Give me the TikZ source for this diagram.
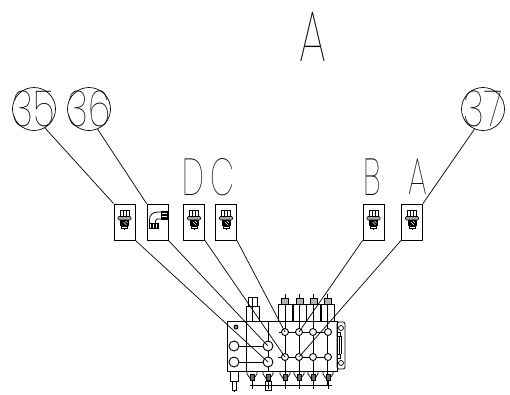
\documentclass[tikz,border=0pt]{standalone}
\usepackage{fontspec}
\usepackage{graphicx}
\newfontfamily\cadfont{Poppins Thin}
\usetikzlibrary{positioning, calc}
\newcommand{\cadtext}[3]{\scalebox{#2}[1]{\fontsize{#1}{#1}\selectfont\cadfont #3}}
\newcommand{\balloontext}[1]{\makebox[0pt]{\smash{\raisebox{-17pt}{\cadtext{50}{.72}{#1}}}}}
\tikzstyle{leader} = [line width=.7pt]
\tikzstyle{part} = [draw=black, line width=.7pt]
\tikzstyle{balloon} = [circle, draw=black, line width=.7pt, inner sep=0pt, minimum size=43pt]
\tikzstyle{letter} = [inner sep=0pt, text=black]
\tikzstyle{port} = [circle, draw=black, fill=white, line width=.9pt, inner sep=0pt, minimum size=7pt]
\tikzstyle{bigport} = [port, minimum size=10pt]
\tikzstyle{holder} = [rectangle, draw=black, line width=.8pt, minimum width=21pt, minimum height=36pt, inner sep=0pt]
\tikzstyle{straightfit} = [holder, path picture={
  \begin{scope}[shift={(path picture bounding box.center)}, x=1pt, y=-1pt, line width=.6pt]
  \draw (-4.5,-12) rectangle (4.5,-5);
  \draw (-1.5,-12) -- (-1.5,-2) (1.5,-12) -- (1.5,-2);
  \draw[rounded corners=1pt, fill=black!35] (-6.5,-5.5) rectangle (6.5,-2);
  \fill[black] (-4.5,-2) rectangle (4.5,4);
  \draw[white, line width=.4pt] (-1,0) -- (2,3) (1,-1) -- (3,1);
  \draw (-3,4) rectangle (3,6.5) (0,6.5) -- (0,8);
  \end{scope}}]
\tikzstyle{elbowfit} = [holder, path picture={
  \begin{scope}[shift={(path picture bounding box.center)}, x=1pt, y=-1pt, line width=.8pt]
  \draw (3.5,-10) -- (1,-10) .. controls (-5,-10) and (-8,-7) .. (-8,-2) -- (-8,1.5);
  \draw (3.5,-3) -- (0,-3) .. controls (-1.5,-3) and (-2,-2) .. (-2,1.5);
  \draw (3.5,-11) rectangle (10,-2.5);
  \foreach \yy in {-9.5,-8,-6.5,-5,-3.5} \draw[line width=.5pt] (3.5,\yy) -- (10,\yy);
  \draw (-8,1.5) rectangle (1,6.5);
  \foreach \xx in {-6.5,-5,-3.5,-2,-.5} \draw[line width=.5pt] (\xx,1.5) -- (\xx,6.5);
  \end{scope}}]

\begin{document}
\begin{tikzpicture}[x=1pt,y=-1pt]
\useasboundingbox (0,0) rectangle (510,394);

\node(c35)[balloon] at (34,109) {\balloontext{35}};
\node(c36)[balloon] at (89,109) {\balloontext{36}};
\node(c37)[balloon] at (483,109) {\balloontext{37}};

\node(title)[letter] at (312.5,37) {\cadtext{72}{.62}{A}};
\node(labD)[letter] at (193,177) {\cadtext{52}{.6}{D}};
\node(labC)[letter] at (222,177) {\cadtext{52}{.6}{C}};
\node(labB)[letter] at (372.5,177) {\cadtext{52}{.6}{B}};
\node(labA)[letter] at (418,177) {\cadtext{52}{.6}{A}};

\node(box35)[straightfit] at (124.5,222) {};
\node(box36)[elbowfit] at (157.5,222) {};
\node(boxD)[straightfit] at (194,222) {};
\node(boxC)[straightfit] at (226,222) {};
\node(boxB)[straightfit] at (373.5,222) {};
\node(boxA)[straightfit] at (412,222) {};

% valve block
\node(block)[rectangle, draw=black, line width=.8pt, minimum width=110pt, minimum height=50pt, inner sep=0pt] at (282,346) {};
\node(plate)[rectangle, draw=black, rounded corners=2pt, line width=.8pt, minimum width=8pt, minimum height=47pt, inner sep=0pt] at (341,345.5) {};
\draw[part] (341,328) circle (2.5pt) (341,363) circle (2.5pt);
\draw[part] (337,332) rectangle (340,336) (337,354) rectangle (340,358) (339,336) -- (339,354) (341,336) -- (341,354);
\draw[part] (246,321) -- (246,371) (268,321) -- (268,371);

% top studs
\draw[part] (246,306) rectangle (259,321);
\draw[part] (248,297) rectangle (257,306) (252.5,297) -- (252.5,321);
\foreach \xx/\wd in {285/7,299.5/6.5,313.5/7,327.5/6.5} {
  \draw[part] (\xx-\wd,304) rectangle (\xx+\wd,321);
  \draw[part, fill=black!30] (\xx-3.5,298) rectangle (\xx+3.5,304);
  \draw[part] (\xx,294) -- (\xx,298) (\xx,304) -- (\xx,385);
}

% bottom fittings
\draw[part] (230,371) rectangle (238,381) (232,381) rectangle (236,390) (234,390) -- (234,392);
\foreach \xx in {252,268,285,299,313,328} {
  \draw[part] (\xx-5,371) -- (\xx-5,374) -- (\xx-1.5,379) -- (\xx+1.5,379) -- (\xx+5,374) -- (\xx+5,371);
  \draw[part, fill=black!60] (\xx-2,374) rectangle (\xx+2,380);
  \draw[part] (\xx,380) -- (\xx,389);
}
\draw[part] (265,381) rectangle (271,390);
\draw[part] (250,385) -- (332,385);

% rows of ports
\draw[part] (279,332) -- (332,332);
\draw[part] (278,357) -- (332,357);
\draw[part] (234,346) -- (268,346);
\draw[part] (234,362) -- (268,362);
\node(pb1)[bigport] at (234,346) {};
\node(pb2)[bigport] at (268,346) {};
\node(pb3)[bigport] at (234,362) {};
\node(pb4)[bigport] at (268,362) {};
\node(ps1)[port, minimum size=4pt, fill=black!50] at (236,327) {};
\node(pu1)[port] at (285,332) {};
\node(pu2)[port] at (299,332) {};
\node(pu3)[port] at (313,332) {};
\node(pu4)[port] at (328,332) {};
\node(pl1)[port] at (285,357) {};
\node(pl2)[port] at (299,357) {};
\node(pl3)[port] at (313,357) {};
\node(pl4)[port] at (328,357) {};

\draw [leader]  (c35.-60) -- (box35.north west);
\draw [leader]  (c36.-67) -- (box36.north west);
\draw [leader]  (c37.247) -- (boxA.north east);
\draw [leader]  (box35.south east) -- (pb4.center);
\draw [leader]  (box36.south east) -- (pb2.center);
\draw [leader]  (boxD.south east) -- (pl1.center);
\draw [leader]  (boxC.south east) -- (pu1.center);
\draw [leader]  (boxB.south west) -- (pu2.center);
\draw [leader]  (boxA.south west) -- (pl2.center);
\end{tikzpicture}
\end{document}
